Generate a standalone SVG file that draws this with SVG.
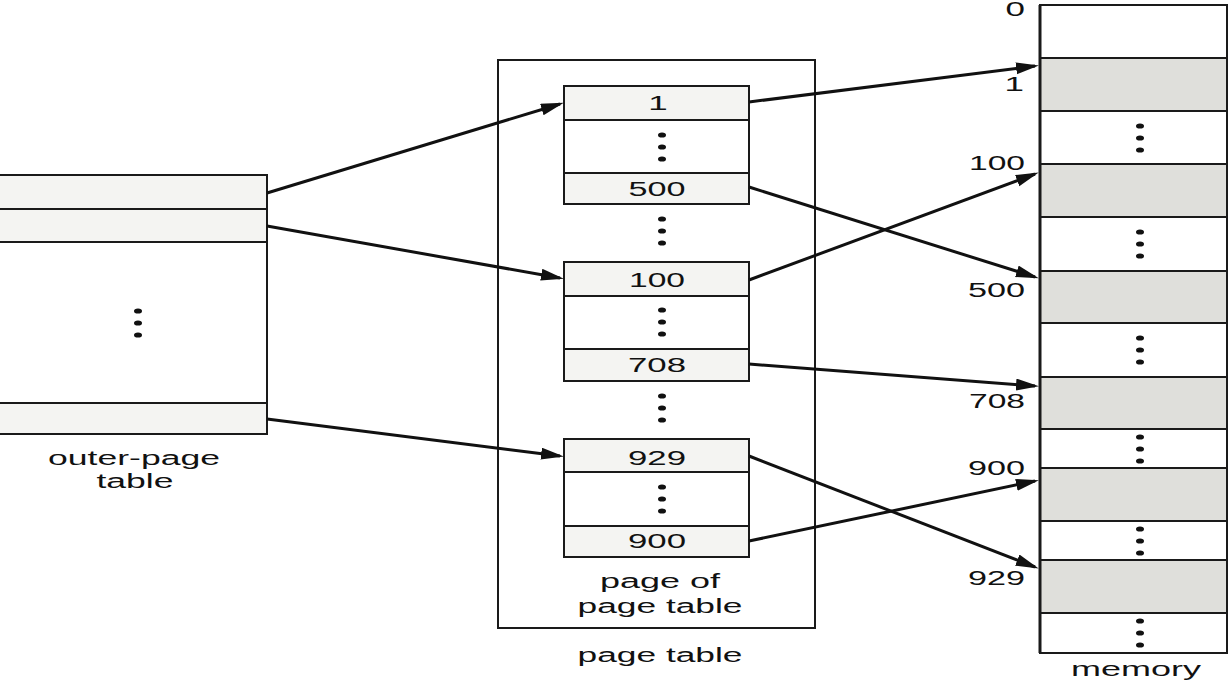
<svg xmlns="http://www.w3.org/2000/svg" width="1230" height="682" viewBox="0 0 1230 682">
<style>
.box{fill:#ffffff;stroke:#1a1a1a;stroke-width:2}
.row{fill:#f4f4f2;stroke:#1a1a1a;stroke-width:2}
.mrow{fill:#dfdfdb;stroke:#1a1a1a;stroke-width:2}
.div{stroke:#1a1a1a;stroke-width:2}
.t{font-family:"Liberation Sans",Arial,sans-serif;font-size:20px;fill:#111}
.c{text-anchor:middle}
.r{text-anchor:end}
.dot{fill:#111}
.arrow{stroke:#111;stroke-width:3;fill:none;marker-end:url(#ah)}
</style>
<defs>
<marker id="ah" markerUnits="userSpaceOnUse" markerWidth="24" markerHeight="14" refX="19" refY="6" orient="auto">
<path d="M0,0 L23,6 L0,12 z" fill="#111"/>
</marker>
<g id="dots"><ellipse cx="0" cy="-12" rx="4" ry="2.6"/><ellipse cx="0" cy="0" rx="4" ry="2.6"/><ellipse cx="0" cy="12" rx="4" ry="2.6"/></g>
</defs>
<rect width="1230" height="682" fill="#ffffff"/>

<g id="outer-page-table">
<rect class="box" x="-5" y="175" width="272" height="259"/>
<rect class="row" x="-5" y="175" width="272" height="34"/>
<rect class="row" x="-5" y="209" width="272" height="33"/>
<rect class="row" x="-5" y="403" width="272" height="31"/>
<use href="#dots" x="138" y="323" class="dot"/>
<text class="t c" x="134" y="465" textLength="172" lengthAdjust="spacingAndGlyphs">outer-page</text>
<text class="t c" x="135" y="488" textLength="77" lengthAdjust="spacingAndGlyphs">table</text>
</g>

<g id="page-table">
<rect class="box" x="498" y="60" width="317" height="568" fill="none"/>
<use href="#dots" x="662" y="231" class="dot"/>
<use href="#dots" x="662" y="408" class="dot"/>
<text class="t c" x="660" y="662" textLength="165" lengthAdjust="spacingAndGlyphs">page table</text>
<text class="t c" x="660" y="588" textLength="120" lengthAdjust="spacingAndGlyphs">page of</text>
<text class="t c" x="660" y="613" textLength="165" lengthAdjust="spacingAndGlyphs">page table</text>
</g>

<g id="page1">
<rect class="box" x="564" y="86" width="185" height="118"/>
<rect class="row" x="564" y="86" width="185" height="34"/>
<rect class="row" x="564" y="173" width="185" height="31"/>
<use href="#dots" x="662" y="147" class="dot"/>
<text class="t c" transform="translate(658,110) scale(1.75,1)">1</text>
<text class="t c" x="657" y="196" textLength="57" lengthAdjust="spacingAndGlyphs">500</text>
</g>

<g id="page2">
<rect class="box" x="564" y="262" width="185" height="119"/>
<rect class="row" x="564" y="262" width="185" height="34"/>
<rect class="row" x="564" y="349" width="185" height="32"/>
<use href="#dots" x="662" y="322" class="dot"/>
<text class="t c" x="657" y="287" textLength="56" lengthAdjust="spacingAndGlyphs">100</text>
<text class="t c" x="657" y="372" textLength="58" lengthAdjust="spacingAndGlyphs">708</text>
</g>

<g id="page3">
<rect class="box" x="564" y="439" width="185" height="118"/>
<rect class="row" x="564" y="439" width="185" height="33"/>
<rect class="row" x="564" y="526" width="185" height="31"/>
<use href="#dots" x="662" y="499" class="dot"/>
<text class="t c" x="657" y="465" textLength="58" lengthAdjust="spacingAndGlyphs">929</text>
<text class="t c" x="657" y="548" textLength="58" lengthAdjust="spacingAndGlyphs">900</text>
</g>

<g id="memory">
<rect class="box" x="1040" y="5" width="187" height="648"/>
<rect class="mrow" x="1040" y="58" width="187" height="53"/>
<rect class="mrow" x="1040" y="164" width="187" height="53"/>
<rect class="mrow" x="1040" y="271" width="187" height="52"/>
<rect class="mrow" x="1040" y="377" width="187" height="52"/>
<rect class="mrow" x="1040" y="468" width="187" height="53"/>
<rect class="mrow" x="1040" y="560" width="187" height="53"/>
<line class="div" x1="1040" y1="5" x2="1040" y2="653" style="stroke-width:3"/>
<use href="#dots" x="1140" y="138" class="dot"/>
<use href="#dots" x="1140" y="244" class="dot"/>
<use href="#dots" x="1140" y="350" class="dot"/>
<use href="#dots" x="1140" y="449" class="dot"/>
<use href="#dots" x="1140" y="541" class="dot"/>
<use href="#dots" x="1140" y="633" class="dot"/>
<text class="t r" transform="translate(1025,16) scale(1.75,1)">0</text>
<text class="t r" transform="translate(1024,91) scale(1.75,1)">1</text>
<text class="t r" x="1025" y="170" textLength="56" lengthAdjust="spacingAndGlyphs">100</text>
<text class="t r" x="1025" y="297" textLength="57" lengthAdjust="spacingAndGlyphs">500</text>
<text class="t r" x="1025" y="408" textLength="56" lengthAdjust="spacingAndGlyphs">708</text>
<text class="t r" x="1025" y="475" textLength="57" lengthAdjust="spacingAndGlyphs">900</text>
<text class="t r" x="1025" y="585" textLength="57" lengthAdjust="spacingAndGlyphs">929</text>
<text class="t c" x="1136" y="676" textLength="130" lengthAdjust="spacingAndGlyphs">memory</text>
</g>

<g id="connectors">
<line class="arrow" x1="267" y1="193" x2="560" y2="104"/>
<line class="arrow" x1="267" y1="226" x2="560" y2="278"/>
<line class="arrow" x1="267" y1="419" x2="560" y2="456"/>
<line class="arrow" x1="749" y1="102" x2="1035" y2="66"/>
<line class="arrow" x1="749" y1="187" x2="1035" y2="277"/>
<line class="arrow" x1="749" y1="280" x2="1035" y2="174"/>
<line class="arrow" x1="749" y1="364" x2="1035" y2="386"/>
<line class="arrow" x1="749" y1="456" x2="1035" y2="567"/>
<line class="arrow" x1="749" y1="541" x2="1035" y2="481"/>
</g>
</svg>
